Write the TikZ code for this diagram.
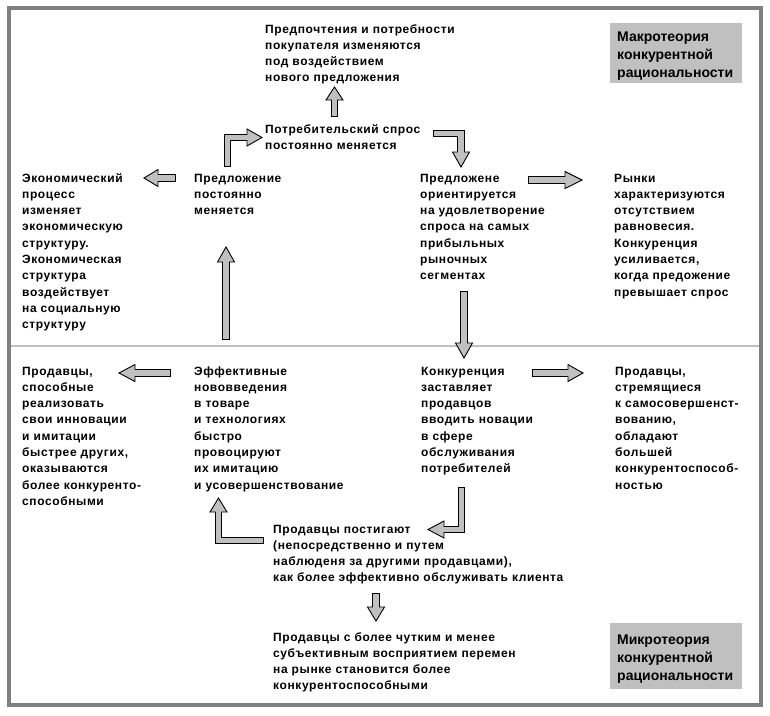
\documentclass[tikz,border=0pt]{standalone}
\usepackage{fontspec}
\setmainfont{Liberation Sans}
\newfontfamily\bodyfont[LetterSpace=5]{Liberation Sans}
\usetikzlibrary{calc}
\definecolor{frameg}{RGB}{128,128,128}
\definecolor{boxg}{RGB}{192,192,192}
\definecolor{sepg}{RGB}{192,192,192}
\newcommand{\ahw}{8.5pt}
\newcommand{\blockarrow}[3]{%
  \filldraw[arrowhead] ($(#2)!\ahw!90:(#3)$) -- (#3) -- ($(#2)!\ahw!-90:(#3)$) -- cycle;
  \draw[arrowedge] #1;
  \draw[arrowcore] #1;
}
\tikzset{
  txt/.style={font=\bodyfont\bfseries\fontsize{12}{16.3}\selectfont, align=left,
    text width=320pt, inner sep=0pt, anchor=base west},
  lbl/.style={fill=boxg, font=\bfseries\fontsize{14}{18}\selectfont, align=left,
    inner xsep=7pt, inner ysep=0pt, anchor=north west, text width=118pt,
    minimum height=60pt},
  arrowhead/.style={fill=boxg, draw=black, line width=0.9pt, line join=miter},
  arrowedge/.style={draw=black, line width=7.6pt, line join=miter, line cap=butt},
  arrowcore/.style={draw=boxg, line width=5.8pt, line join=miter, line cap=butt,
    shorten <=0.9pt, shorten >=-1.3pt},
}
\begin{document}
\begin{tikzpicture}[x=1pt,y=-1pt]
\useasboundingbox (0,0) rectangle (770,715);
\fill[white] (0,0) rectangle (770,715);
\draw[frameg, line width=4pt] (9,8) rectangle (761,705);
\draw[sepg, line width=2pt] (11,346.3) -- (759,346.3);

% labels
\node[lbl] (macro) at (610,23) {\rule{0pt}{15pt}Макротеория\\конкурентной\\рациональности};
\node[lbl, minimum height=66pt] (micro) at (610,623) {\rule{0pt}{15pt}Микротеория\\конкурентной\\рациональности};

% texts
\node[txt] (pref) at (265,33) {Предпочтения и потребности\\покупателя изменяются\\под воздействием\\нового предложения};
\node[txt] (demand) at (265,133.5) {Потребительский спрос\\постоянно меняется};
\node[txt] (econ) at (22,182) {Экономический\\процесс\\изменяет\\экономическую\\структуру.\\Экономическая\\структура\\воздействует\\на социальную\\структуру};
\node[txt] (supply) at (194,182) {Предложение\\постоянно\\меняется};
\node[txt] (orient) at (420,182) {Предложене\\ориентируется\\на удовлетворение\\спроса на самых\\прибыльных\\рыночных\\сегментах};
\node[txt] (markets) at (614,182) {Рынки\\характеризуются\\отсутствием\\равновесия.\\Конкуренция\\усиливается,\\когда предожение\\превышает спрос};
\node[txt] (sell1) at (22,375) {Продавцы,\\способные\\реализовать\\свои инновации\\и имитации\\быстрее других,\\оказываются\\более конкуренто-\\способными};
\node[txt] (innov) at (194,375) {Эффективные\\нововведения\\в товаре\\и технологиях\\быстро\\провоцируют\\их имитацию\\и усовершенствование};
\node[txt] (compet) at (421,375) {Конкуренция\\заставляет\\продавцов\\вводить новации\\в сфере\\обслуживания\\потребителей};
\node[txt] (sell2) at (615,375) {Продавцы,\\стремящиеся\\к самосовершенст-\\вованию,\\обладают\\большей\\конкурентоспособ-\\ностью};
\node[txt] (learn) at (273,533) {Продавцы постигают\\(непосредственно и путем\\наблюденя за другими продавцами),\\как более эффективно обслуживать клиента};
\node[txt] (result) at (273,641) {Продавцы с более чутким и менее\\субъективным восприятием перемен\\на рынке становится более\\конкурентоспособными};

% arrow coordinates
\coordinate (a1s) at (334.5,117); \coordinate (a1h) at (334.5,100); \coordinate (a1t) at (334.5,87);
\coordinate (a2s) at (227.5,167); \coordinate (a2c) at (227.5,137.5); \coordinate (a2h) at (247,137.5); \coordinate (a2t) at (262,137.5);
\coordinate (a3s) at (433,133.5); \coordinate (a3c) at (461,133.5); \coordinate (a3h) at (461,152); \coordinate (a3t) at (461,167);
\coordinate (a4s) at (176,178); \coordinate (a4h) at (158,178); \coordinate (a4t) at (144,178);
\coordinate (a5s) at (528,180); \coordinate (a5h) at (565,180); \coordinate (a5t) at (582,180);
\coordinate (a6s) at (226,340); \coordinate (a6h) at (226,262); \coordinate (a6t) at (226,247);
\coordinate (a7s) at (464,291); \coordinate (a7h) at (464,343); \coordinate (a7t) at (464,358);
\coordinate (a8s) at (171,373); \coordinate (a8h) at (135,373); \coordinate (a8t) at (119,373);
\coordinate (a9s) at (532,373); \coordinate (a9h) at (568,373); \coordinate (a9t) at (583,373);
\coordinate (a10s) at (461.5,487); \coordinate (a10c) at (461.5,529.5); \coordinate (a10h) at (444,529.5); \coordinate (a10t) at (428,529.5);
\coordinate (a11s) at (264,540.5); \coordinate (a11c) at (218.5,540.5); \coordinate (a11h) at (218.5,512); \coordinate (a11t) at (218.5,498);
\coordinate (a12s) at (376,593); \coordinate (a12h) at (376,607); \coordinate (a12t) at (376,621);

\blockarrow{(a1s) -- (a1h)}{a1h}{a1t}
\blockarrow{(a2s) -- (a2c) -- (a2h)}{a2h}{a2t}
\blockarrow{(a3s) -- (a3c) -- (a3h)}{a3h}{a3t}
\blockarrow{(a4s) -- (a4h)}{a4h}{a4t}
\blockarrow{(a5s) -- (a5h)}{a5h}{a5t}
\blockarrow{(a6s) -- (a6h)}{a6h}{a6t}
\blockarrow{(a7s) -- (a7h)}{a7h}{a7t}
\blockarrow{(a8s) -- (a8h)}{a8h}{a8t}
\blockarrow{(a9s) -- (a9h)}{a9h}{a9t}
\blockarrow{(a10s) -- (a10c) -- (a10h)}{a10h}{a10t}
\blockarrow{(a11s) -- (a11c) -- (a11h)}{a11h}{a11t}
\blockarrow{(a12s) -- (a12h)}{a12h}{a12t}
\end{tikzpicture}
\end{document}
